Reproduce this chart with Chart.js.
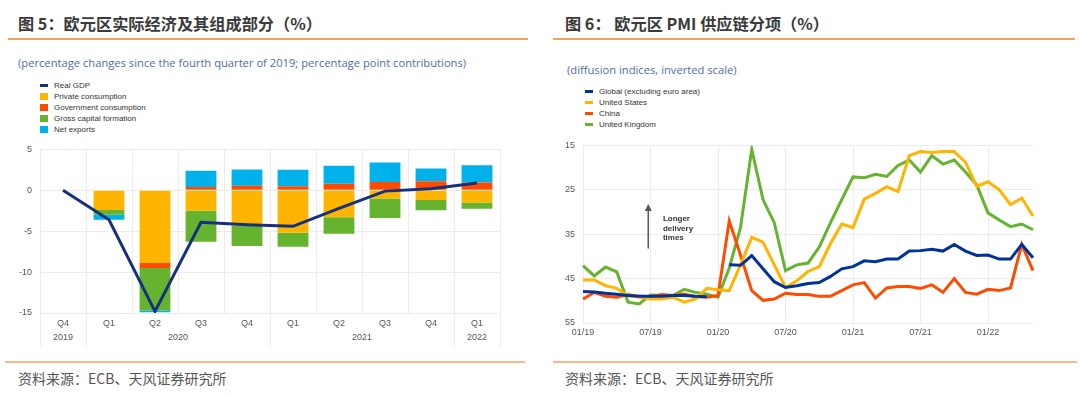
<!DOCTYPE html>
<html>
<head>
<meta charset="utf-8">
<script src="https://cdn.jsdelivr.net/npm/chart.js@4.4.1/dist/chart.umd.min.js"></script>
<style>
  body { margin: 0; background: #fff; width: 1080px; height: 395px; overflow: hidden; position: relative; font-family: "Liberation Sans", Arial, sans-serif; }
  .title { position: absolute; top: 11px; font-family: "Noto Sans CJK SC", sans-serif; font-weight: bold; font-size: 16.2px; color: #3a3a3a; white-space: nowrap; }
  .rule { position: absolute; height: 1.5px; background: #f0a35e; }
  .rule.bottom { height: 2px; background: #f6b98c; }
  .sub { position: absolute; font-family: "Open Sans", sans-serif; font-size: 11.2px; color: #4f6ea6; white-space: nowrap; }
  .src { position: absolute; top: 368px; font-family: "Noto Sans CJK SC", sans-serif; font-size: 14px; color: #555; white-space: nowrap; }
  .legend { position: absolute; font-size: 8px; color: #333; line-height: 11px; }
  .legend div { position: relative; padding-left: 14px; white-space: nowrap; }
  .legend span { position: absolute; left: 0; }
  canvas { position: absolute; }
</style>
</head>
<body>
<div class="title" style="left:18px">图 5：欧元区实际经济及其组成部分（%）</div>
<div class="title" style="left:565px">图 6： 欧元区 PMI 供应链分项（%）</div>
<div class="rule" style="left:8px; width:520px; top:38px"></div>
<div class="rule" style="left:553px; width:522px; top:38px"></div>
<div class="sub" style="left:18px; top:55px">(percentage changes since the fourth quarter of 2019; percentage point contributions)</div>
<div class="sub" style="left:567px; top:62px">(diffusion indices, inverted scale)</div>
<div class="legend" id="legendA" style="left:40px; top:80px"></div>
<div class="legend" id="legendB" style="left:585px; top:86px"></div>
<div style="position:absolute; left:0; top:136px; width:520px; height:214px"><canvas id="chartA"></canvas></div>
<div style="position:absolute; left:540px; top:132px; width:540px; height:210px"><canvas id="chartB"></canvas></div>
<div class="rule bottom" style="left:5px; width:520px; top:361px"></div>
<div class="rule bottom" style="left:553px; width:524px; top:361px"></div>
<div class="src" style="left:18px">资料来源：ECB、天风证券研究所</div>
<div class="src" style="left:565px">资料来源：ECB、天风证券研究所</div>

<script>
// ---- chart 5 data (percentage changes since Q4 2019) ----
const quarters = ['Q4', 'Q1', 'Q2', 'Q3', 'Q4', 'Q1', 'Q2', 'Q3', 'Q4', 'Q1'];
const years = ['2019', '2020', '2020', '2020', '2020', '2021', '2021', '2021', '2021', '2022'];
const realGdp = [0, -3.6, -14.8, -3.9, -4.2, -4.4, -2.2, -0.1, 0.2, 0.9];
const privateCons = [null, -2.4, -8.9, -2.5, -4.3, -5.2, -3.3, -1.0, -1.2, -1.5];
const govCons = [null, 0, -0.6, 0.4, 0.55, 0.5, 0.8, 1.0, 1.1, 0.95];
const grossCapital = [null, -0.6, -5.2, -3.8, -2.5, -1.7, -2.0, -2.4, -1.25, -0.75];
const netExports = [null, -0.6, -0.2, 2.0, 2.0, 2.0, 2.2, 2.4, 1.55, 2.1];

// ---- chart 6 data (PMI suppliers' delivery times, Jan 2019 - May 2022) ----
const months = [];
for (let y = 19; y <= 22; y++) {
  for (let m = 1; m <= 12; m++) {
    if (y === 22 && m > 5) break;
    months.push(String(m).padStart(2, '0') + '/' + y);
  }
}
const globalExEa = [47.9, 48, 48.3, 48.5, 48.8, 49, 49, 49, 48.8, 48.8, 49, 49.1, null, 41.9, 42, 39.8, 42.8, 45.7, 47, 46.6, 46.1, 45.9, 44.5, 42.8, 42.3, 41, 41.2, 40.6, 40.6, 38.8, 38.7, 38.4, 38.8, 37.3, 38.8, 39.8, 39.7, 40.6, 40.6, 37.3, 40.3];
const unitedStates = [45.3, 45.3, 46.6, 47.2, 48.8, 49.2, 49.6, 49.6, 49.2, 50.3, 49.6, 47.2, 47.5, 47.7, 41.9, 35.7, 36.8, 41.9, 47, 45.5, 43.4, 42.3, 37.1, 32.7, 33.5, 27.1, 25.8, 24.3, 25.4, 17.3, 16.4, 16.6, 16.4, 16.4, 18.8, 24.2, 23.2, 25, 28.3, 26.9, 30.9];
const china = [49.6, 48.1, 49, 49.2, 48.6, 49, 49.1, 48.6, 48.8, 48.5, 49.1, 49.2, 48.8, 32, 39.7, 47.7, 49.9, 49.6, 48.3, 48.6, 48.6, 49, 49, 47.7, 46.4, 45.9, 49.4, 47.1, 46.8, 46.8, 47.2, 46.4, 48.1, 45, 48.1, 48.5, 47.4, 47.7, 47.1, 37.3, 43.2];
const unitedKingdom = [42.1, 44.4, 42.4, 43.5, 50.3, 50.7, 48.7, 48.8, 48.8, 47.4, 48.1, 48.5, 49.2, 42.6, 33.5, 15.9, 27.2, 32.4, 43.2, 41.9, 41.5, 37.9, 32.4, 27.2, 22.1, 22.3, 21.5, 22, 19.5, 18.3, 21, 17.3, 19.2, 18.3, 21, 23.9, 30.2, 31.8, 33.3, 32.7, 34];

const navy = '#14307f', amber = '#ffb400', red = '#ff4b00', green = '#65b32e', cyan = '#00b1ea', blue = '#003299';
const tickColor = '#555';
const gridColor = '#ececec';

Chart.defaults.font.family = '"Liberation Sans", Arial, sans-serif';
Chart.defaults.font.size = 9;
Chart.defaults.color = tickColor;

function buildLegend(id, chart, lineOnly) {
  const box = document.getElementById(id);
  chart.data.datasets.forEach(ds => {
    const row = document.createElement('div');
    const mark = document.createElement('span');
    const isLine = lineOnly || ds.type === 'line';
    mark.style.background = isLine ? ds.borderColor : ds.backgroundColor;
    mark.style.width = '8px';
    mark.style.height = isLine ? '2.5px' : '7px';
    mark.style.top = isLine ? '4px' : '2px';
    row.appendChild(mark);
    row.appendChild(document.createTextNode(ds.label));
    box.appendChild(row);
  });
}

// draws the year row under the quarter labels
const yearRow = {
  id: 'yearRow',
  afterDraw(chart) {
    const x = chart.scales.x, area = chart.chartArea, ctx = chart.ctx;
    const half = (x.getPixelForValue(1) - x.getPixelForValue(0)) / 2;
    ctx.save();
    ctx.font = '9px "Liberation Sans", Arial';
    ctx.fillStyle = tickColor;
    ctx.textAlign = 'center';
    ctx.textBaseline = 'middle';
    ctx.strokeStyle = gridColor;
    ctx.lineWidth = 1;
    let start = 0;
    for (let i = 1; i <= years.length; i++) {
      if (i === years.length || years[i] !== years[start]) {
        const l = x.getPixelForValue(start) - half;
        const r = x.getPixelForValue(i - 1) + half;
        ctx.fillText(years[start], (l + r) / 2, area.bottom + 25);
        ctx.beginPath();
        ctx.moveTo(Math.round(l) + 0.5, area.bottom);
        ctx.lineTo(Math.round(l) + 0.5, area.bottom + 33);
        ctx.stroke();
        if (i === years.length) {
          ctx.beginPath();
          ctx.moveTo(Math.round(r) + 0.5, area.bottom);
          ctx.lineTo(Math.round(r) + 0.5, area.bottom + 33);
          ctx.stroke();
        }
        start = i;
      }
    }
    ctx.restore();
  }
};

const chartA = new Chart(document.getElementById('chartA'), {
  type: 'bar',
  data: {
    labels: quarters,
    datasets: [
      { type: 'line', label: 'Real GDP', data: realGdp, borderColor: navy, borderWidth: 3, pointRadius: 0, tension: 0, order: 0 },
      { label: 'Private consumption', data: privateCons, backgroundColor: amber, order: 1 },
      { label: 'Government consumption', data: govCons, backgroundColor: red, order: 1 },
      { label: 'Gross capital formation', data: grossCapital, backgroundColor: green, order: 1 },
      { label: 'Net exports', data: netExports, backgroundColor: cyan, order: 1 }
    ]
  },
  options: {
    responsive: true,
    maintainAspectRatio: false,
    animation: false,
    layout: { padding: { top: 10, right: 20, left: 0, bottom: 0 } },
    datasets: { bar: { barPercentage: 0.67, categoryPercentage: 1 } },
    plugins: { legend: { display: false }, tooltip: { enabled: false } },
    scales: {
      x: {
        stacked: true,
        grid: { color: gridColor, drawTicks: false },
        border: { display: false },
        ticks: { padding: 5 },
        afterFit: s => { s.height = 37; }
      },
      y: {
        stacked: true,
        min: -15,
        max: 5,
        ticks: { stepSize: 5, padding: 8 },
        grid: { color: gridColor, drawTicks: false },
        border: { display: false },
        afterFit: s => { s.width = 40; }
      }
    }
  },
  plugins: [yearRow]
});
buildLegend('legendA', chartA, false);

// arrow + "Longer delivery times" note, placed with the chart's own scales
const deliveryNote = {
  id: 'deliveryNote',
  afterDatasetsDraw(chart) {
    const x = chart.scales.x, y = chart.scales.y, ctx = chart.ctx;
    const ax = x.getPixelForValue(5.8);
    const top = y.getPixelForValue(28.2), bot = y.getPixelForValue(38.2);
    ctx.save();
    ctx.strokeStyle = '#555';
    ctx.fillStyle = '#555';
    ctx.lineWidth = 1.5;
    ctx.beginPath();
    ctx.moveTo(ax, bot);
    ctx.lineTo(ax, top + 6);
    ctx.stroke();
    ctx.beginPath();
    ctx.moveTo(ax - 3.5, top + 7);
    ctx.lineTo(ax + 3.5, top + 7);
    ctx.lineTo(ax, top);
    ctx.closePath();
    ctx.fill();
    ctx.fillStyle = '#333';
    ctx.font = 'bold 8px "Liberation Sans", Arial';
    ctx.textBaseline = 'middle';
    const tx = x.getPixelForValue(7.1);
    ['Longer', 'delivery', 'times'].forEach((t, i) => {
      ctx.fillText(t, tx, y.getPixelForValue(31.5 + i * 2.2));
    });
    ctx.restore();
  }
};

const lineStyle = { borderWidth: 3, pointRadius: 0, tension: 0, spanGaps: false };
const chartB = new Chart(document.getElementById('chartB'), {
  type: 'line',
  data: {
    labels: months,
    datasets: [
      { label: 'Global (excluding euro area)', data: globalExEa, borderColor: blue, ...lineStyle },
      { label: 'United States', data: unitedStates, borderColor: amber, ...lineStyle },
      { label: 'China', data: china, borderColor: red, ...lineStyle },
      { label: 'United Kingdom', data: unitedKingdom, borderColor: green, ...lineStyle }
    ]
  },
  options: {
    responsive: true,
    maintainAspectRatio: false,
    animation: false,
    layout: { padding: { top: 9, right: 47, left: 0, bottom: 0 } },
    plugins: { legend: { display: false }, tooltip: { enabled: false } },
    scales: {
      x: {
        offset: false,
        grid: {
          color: ctx => (ctx.index % 6 === 0 ? gridColor : 'transparent'),
          drawTicks: false
        },
        border: { display: false },
        ticks: {
          autoSkip: false,
          maxRotation: 0,
          padding: 4,
          callback: function (v, i) { return i % 6 === 0 ? this.getLabelForValue(v) : ''; }
        },
        afterFit: s => { s.height = 19; }
      },
      y: {
        reverse: true,
        min: 15,
        max: 55,
        ticks: { stepSize: 10, padding: 8 },
        grid: { color: gridColor, drawTicks: false },
        border: { display: false },
        afterFit: s => { s.width = 43; }
      }
    }
  },
  plugins: [deliveryNote]
});
buildLegend('legendB', chartB, true);
</script>
</body>
</html>
